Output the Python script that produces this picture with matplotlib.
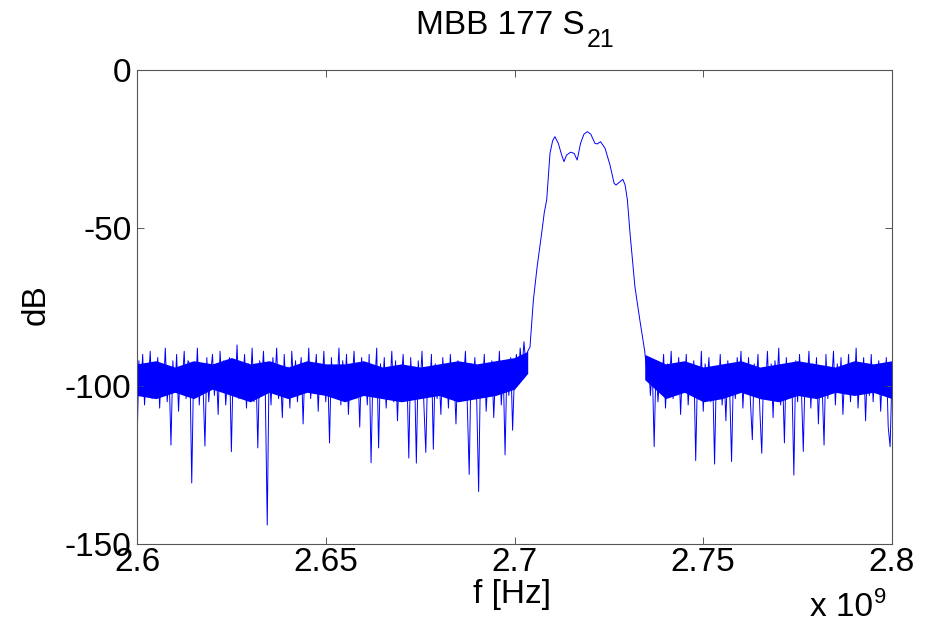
import numpy as np
import matplotlib
matplotlib.use("Agg")
import matplotlib.pyplot as plt

plt.rcParams['font.family'] = ['Liberation Sans', 'DejaVu Sans']

# ---------------- data ----------------
# noise floor below the passband, 0.5 MHz grid from 2.6000 GHz
left_start, left_step = 2.6000, 0.0005
left_db = [
    -119, -92, -103, -90, -106, -94, -100, -89, -104, -95,
    -99, -91, -107, -93, -101, -88, -105, -96, -118.7, -92,
    -102, -90, -108, -94, -99, -89, -104, -92, -93, -130.7,
    -95, -101, -88, -106, -93, -100, -119, -91, -105, -96,
    -90, -103, -94, -109, -89, -100, -92, -106, -97, -91,
    -120.8, -93, -102, -87, -104, -95, -99, -90, -107, -93,
    -101, -88, -105, -94, -119.6, -92, -100, -89, -103, -144,
    -93, -106, -91, -99, -88, -104, -96, -110, -90, -102,
    -94, -107, -89, -100, -92, -105, -97, -91, -112, -93,
    -101, -88, -104, -95, -98, -90, -108, -93, -100, -89,
    -105, -94, -118, -91, -103, -96, -99, -88, -106, -92,
    -101, -90, -109, -95, -98, -89, -104, -93, -113, -91,
    -100, -94, -106, -90, -124.3, -96, -99, -88, -119.6, -93,
    -102, -91, -107, -95, -100, -89, -105, -92, -111, -94,
    -99, -90, -104, -96, -122.8, -91, -103, -94, -124.4, -92,
    -100, -89, -106, -121, -95, -101, -90, -120, -93, -104,
    -96, -109, -91, -102, -94, -107, -90, -100, -97, -112,
    -92, -104, -95, -99, -89, -106, -128, -93, -101, -91,
    -105, -133.4, -94, -100, -90, -108, -96, -102, -92, -110,
    -95, -101, -89, -106, -94, -121.8, -93, -103, -91, -114,
    -96, -90, -99, -88, -95, -86, -93, -89,
]

# passband (GHz, dB)
band_f = [2.7041, 2.7050, 2.7060, 2.7072, 2.7079, 2.70853, 2.7094, 2.7101,
          2.7107, 2.7116, 2.7125, 2.7131, 2.7138, 2.7149, 2.7158, 2.7166,
          2.7175, 2.7184, 2.7193, 2.7202, 2.7213, 2.7219, 2.7228, 2.7240,
          2.7253, 2.7264, 2.7269, 2.7280, 2.7287, 2.7293, 2.7299, 2.7306,
          2.7319, 2.7332, 2.7343]
band_db = [-87.7, -72.8, -62.2, -51.6, -45.0, -41.1, -26.4, -22.4,
           -21.1, -23.2, -26.9, -29.0, -26.9, -26.0, -26.4, -28.5,
           -23.2, -20.3, -19.5, -20.3, -23.2, -23.4, -22.7, -24.8,
           -30.1, -35.9, -36.4, -35.3, -34.6, -36.4, -41.1, -51.6,
           -68.6, -79.1, -87.6]

# noise floor above the passband, 0.5 MHz grid from 2.7345 GHz
right_start, right_step = 2.7345, 0.0005
right_db = [
    -89, -95, -91, -103, -94, -119.2, -92, -105, -96, -100,
    -90, -107, -93, -101, -89, -104, -95, -99, -91, -109,
    -94, -102, -90, -106, -96, -100, -92, -123.6, -95, -103,
    -89, -108, -93, -100, -91, -105, -97, -124.7, -94, -102,
    -90, -106, -95, -111, -92, -101, -123.9, -96, -104, -91,
    -99, -89, -107, -94, -102, -91, -105, -117, -93, -100,
    -90, -108, -121.3, -95, -101, -89, -104, -93, -110, -92,
    -100, -88, -106, -96, -118, -91, -103, -94, -99, -128.2,
    -92, -105, -90, -101, -120.7, -95, -99, -89, -107, -93,
    -102, -91, -112, -94, -100, -118.7, -90, -104, -96, -99,
    -89, -106, -93, -101, -91, -109, -95, -100, -90, -105,
    -94, -102, -88, -107, -96, -99, -91, -111, -93, -103,
    -90, -105, -95, -100, -92, -108, -94, -101, -91, -113,
    -119.2, -96,
]

# dense core of the noise floor (where the trace is solid blue)
core_left_f = [2.600, 2.605, 2.610, 2.615, 2.620, 2.625, 2.630, 2.635,
               2.640, 2.645, 2.650, 2.655, 2.660, 2.665, 2.670, 2.675,
               2.680, 2.685, 2.690, 2.695, 2.700, 2.7035]
core_left_top = [-93, -92, -94, -92, -93, -91, -93, -92, -94, -92, -93,
                 -93, -92, -94, -93, -94, -93, -92, -93, -92, -91, -89]
core_left_bot = [-103, -104, -102, -104, -101, -103, -105, -102, -104, -102, -103,
                 -105, -103, -104, -105, -104, -103, -105, -104, -103, -101, -96]
core_right_f = [2.7345, 2.740, 2.745, 2.750, 2.755, 2.760, 2.765, 2.770,
                2.775, 2.780, 2.785, 2.790, 2.795, 2.800]
core_right_top = [-90, -93, -92, -94, -93, -92, -94, -93, -92, -93, -94, -92, -93, -92]
core_right_bot = [-98, -104, -102, -105, -104, -102, -104, -105, -103, -104, -102, -103, -102, -104]

x_ticks = [2.6, 2.65, 2.7, 2.75, 2.8]
x_tick_labels = ["2.6", "2.65", "2.7", "2.75", "2.8"]
y_ticks = [-150, -100, -50, 0]
y_tick_labels = ["-150", "-100", "-50", "0"]
title_main, title_sub = "MBB 177 S", "21"
x_label, y_label = "f [Hz]", "dB"

# ---------------- build series ----------------
left_f = left_start + left_step * np.arange(len(left_db))
right_f = right_start + right_step * np.arange(len(right_db))
f_all = np.concatenate([left_f, band_f, right_f])
db_all = np.concatenate([left_db, band_db, right_db])

# ---------------- figure ----------------
W, H = 930, 623
FS = 24
fig = plt.figure(figsize=(W / 100, H / 100), dpi=100)
ax = fig.add_axes([137 / W, 1 - 544 / H, (892 - 137) / W, (544 - 70) / H])

blue = (0, 0, 1)
ax.fill_between(core_left_f, core_left_bot, core_left_top, color=blue, lw=0)
ax.fill_between(core_right_f, core_right_bot, core_right_top, color=blue, lw=0)
ax.plot(f_all, db_all, color=blue, lw=0.7)

ax.set_xlim(2.6, 2.8)
ax.set_ylim(-150, 0)
ax.set_xticks(x_ticks)
ax.set_xticklabels(x_tick_labels)
ax.set_yticks(y_ticks)
ax.set_yticklabels(y_tick_labels)
ax.tick_params(direction='in', length=5, width=0.7, color='#555555',
               labelsize=FS, top=True, right=True)
ax.tick_params(axis='x', pad=2)
ax.tick_params(axis='y', pad=4)
for s in ax.spines.values():
    s.set_color('#555555')
    s.set_linewidth(0.8)

# labels
fig.text(36 / W, 1 - 305 / H, y_label, rotation=90, ha='center', va='center', fontsize=FS)
fig.text(512 / W, 1 - 603 / H, x_label, ha='center', va='baseline', fontsize=FS)

fig.canvas.draw()
r = fig.canvas.get_renderer()

# title with manual subscript
t1 = fig.text(0, 1 - 34 / H, title_main, ha='left', va='baseline', fontsize=FS)
t2 = fig.text(0, 1 - 47 / H, title_sub, ha='left', va='baseline', fontsize=18)
w1 = t1.get_window_extent(r).width
w2 = t2.get_window_extent(r).width
x0 = 515 - (w1 + w2 + 2) / 2
t1.set_x(x0 / W)
t2.set_x((x0 + w1 + 2) / W)

# x 10^9 multiplier
m1 = fig.text(810 / W, 1 - 616 / H, "x 10", ha='left', va='baseline', fontsize=FS)
wm = m1.get_window_extent(r).width
fig.text((810 + wm + 1) / W, 1 - 603 / H, "9", ha='left', va='baseline', fontsize=16)

fig.savefig("out.png", dpi=100)
